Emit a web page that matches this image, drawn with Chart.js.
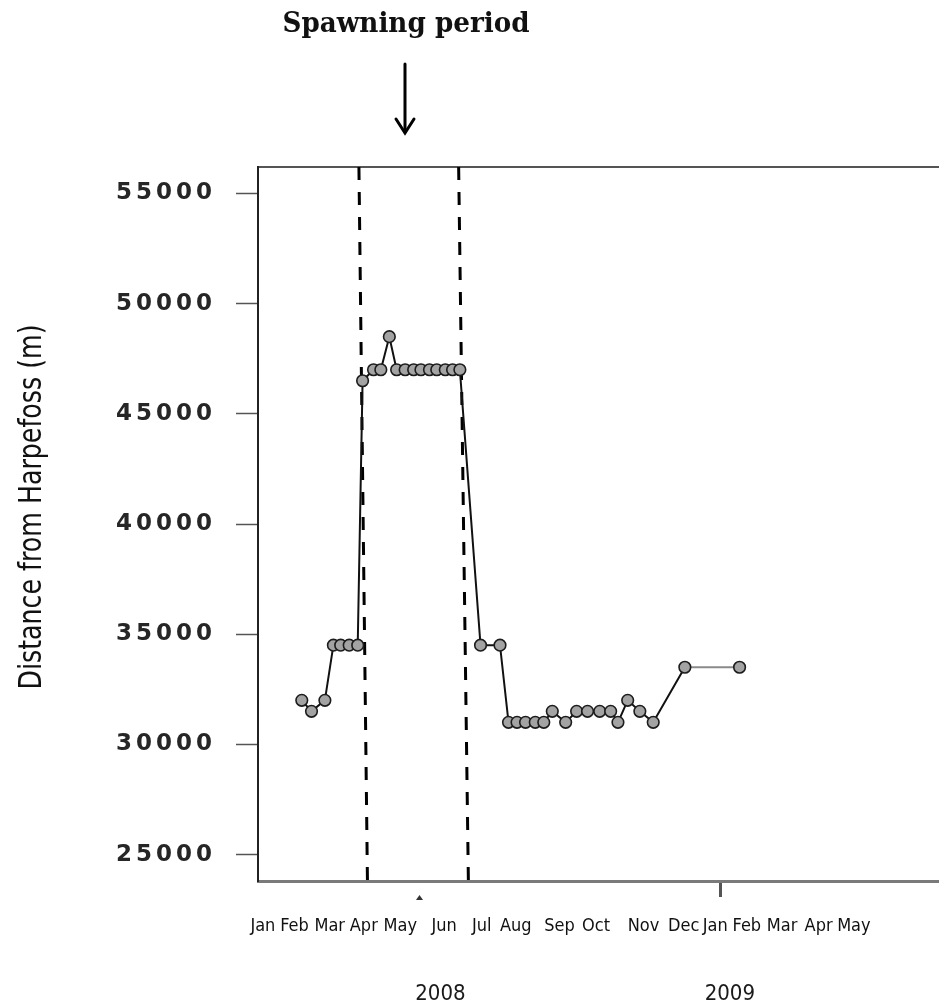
<!DOCTYPE html>
<html><head><meta charset="utf-8">
<script src="https://cdn.jsdelivr.net/npm/chart.js@4.4.0/dist/chart.umd.min.js"></script>
<style>html,body{margin:0;padding:0;background:#fff;overflow:hidden}#wrap{width:939px;height:1006px;position:relative}</style>
</head><body><div id="wrap"><canvas id="c" width="939" height="1006"></canvas></div>
<script>
// ---- data (x = day counted from 1 Jan 2008) ----
const surveyDays = [46,54,65,72,78,85,92,96,105,111,118,124,131,138,144,151,157,164,170,176,193,209,216,223,230,238,245,252,263,272,281,291,300,306,314,324,335,361,406];
const distanceM  = [32000,31500,32000,34500,34500,34500,34500,46500,47000,47000,48500,47000,47000,47000,47000,47000,47000,47000,47000,47000,34500,34500,31000,31000,31000,31000,31000,31500,31000,31500,31500,31500,31500,31000,32000,31500,31000,33500,33500];
const yTickValues = [25000,30000,35000,40000,45000,50000,55000];
const monthLabels = ['Jan','Feb','Mar','Apr','May','Jun','Jul','Aug','Sep','Oct','Nov','Dec','Jan','Feb','Mar','Apr','May'];
const monthLabelDays = [14,40,69,97,127,163,194,222,258,288,327,360,386,412,441,471,500];
const axisMarkDays = [390];
const spawnStartDays = [93,100];   // top, bottom of dashed line
const spawnEndDays = [175,183];
const yearLabels = ['2008','2009'];
const yearDays = [160,398];
const X_MIN = 10, X_MAX = 570, Y_MIN = 23800, Y_MAX = 56200;

function hasFont(f){const c=document.createElement('canvas').getContext('2d');c.font='40px monospace';const a=c.measureText('abcdefghiWMl').width;c.font='40px "'+f+'", monospace';return c.measureText('abcdefghiWMl').width!==a;}
let NARROW = 'Liberation Sans';
for (const f of ['Liberation Sans Narrow','DejaVu Sans Condensed','Roboto Condensed','Roboto']) { if (hasFont(f)) { NARROW = f; break; } }

const decor = {
  id:'decor',
  afterDraw(chart){
    const ctx = chart.ctx, ys = chart.scales.y, xs = chart.scales.x;
    ctx.save();
    ctx.font = 'bold 23px "DejaVu Sans"';
    ctx.fillStyle = '#262626';
    ctx.textAlign = 'right'; ctx.textBaseline = 'middle';
    if ('letterSpacing' in ctx) ctx.letterSpacing = '4px';
    ys.ticks.forEach(t => ctx.fillText(String(t.value), 216, ys.getPixelForValue(t.value)));
    if ('letterSpacing' in ctx) ctx.letterSpacing = '0px';
    ctx.restore();

    // y title
    ctx.save();
    ctx.translate(33, 507); ctx.rotate(-Math.PI/2);
    ctx.font = '32px "' + NARROW + '"';
    ctx.fillStyle = '#111';
    const t1 = 'Distance from Harpefoss (m)';
    const w1 = ctx.measureText(t1).width;
    ctx.scale(365 / w1, 1);
    ctx.textAlign = 'center'; ctx.textBaseline = 'middle';
    ctx.fillText(t1, 0, 0);
    ctx.restore();

    // title
    ctx.save();
    ctx.translate(406, 25);
    ctx.font = 'bold 27px "DejaVu Serif"';
    const t2 = 'Spawning period';
    const w2 = ctx.measureText(t2).width;
    ctx.scale(247 / w2, 1);
    ctx.fillStyle = '#111';
    ctx.textAlign = 'center'; ctx.textBaseline = 'middle';
    ctx.fillText(t2, 0, 0);
    ctx.restore();

    // arrow
    ctx.save();
    ctx.strokeStyle = '#000'; ctx.lineWidth = 3; ctx.lineCap = 'round';
    ctx.beginPath(); ctx.moveTo(405, 64); ctx.lineTo(405, 132); ctx.stroke();
    ctx.beginPath(); ctx.moveTo(396, 119); ctx.lineTo(405, 133); ctx.lineTo(414, 119); ctx.stroke();
    ctx.restore();

    // small mark under axis
    ctx.save();
    ctx.fillStyle = '#333';
    ctx.beginPath(); ctx.moveTo(416, 900); ctx.lineTo(419.5, 895); ctx.lineTo(423, 900); ctx.closePath(); ctx.fill();
    ctx.restore();

    // year labels
    ctx.save();
    ctx.font = '22px "' + NARROW + '"';
    ctx.fillStyle = '#1a1a1a';
    ctx.textAlign = 'center'; ctx.textBaseline = 'middle';
    yearLabels.forEach((l,i) => ctx.fillText(l, xs.getPixelForValue(yearDays[i]), 994));
    ctx.restore();
  }
};

const lastSeg = surveyDays.length - 2;
new Chart(document.getElementById('c'), {
  type: 'line',
  data: {
    datasets: [
      {
        data: surveyDays.map((d,i) => ({x:d, y:distanceM[i]})),
        borderColor: '#111', borderWidth: 2, tension: 0,
        pointRadius: 5.8, pointBackgroundColor: '#a3a3a3', pointBorderColor: '#1c1c1c', pointBorderWidth: 1.6,
        segment: { borderColor: c => c.p0DataIndex === lastSeg ? '#8a8a8a' : '#111' },
        order: 1
      },
      {
        data: [{x:spawnStartDays[0], y:Y_MAX}, {x:spawnStartDays[1], y:Y_MIN}],
        borderColor: '#000', borderWidth: 3, borderDash: [13,12], pointRadius: 0, order: 2
      },
      {
        data: [{x:spawnEndDays[0], y:Y_MAX}, {x:spawnEndDays[1], y:Y_MIN}],
        borderColor: '#000', borderWidth: 3, borderDash: [13,12], pointRadius: 0, order: 2
      }
    ]
  },
  options: {
    responsive: false, animation: false, devicePixelRatio: 1,
    layout: { autoPadding: false, padding: { top: 167, right: 0, left: 0, bottom: 0 } },
    plugins: { legend: {display:false}, tooltip: {enabled:false} },
    scales: {
      x: {
        type: 'linear', position: 'bottom', min: X_MIN, max: X_MAX,
        afterBuildTicks: s => {
          const t = monthLabelDays.map((v,i) => ({value:v, lbl:monthLabels[i]}));
          axisMarkDays.forEach(v => t.push({value:v, mark:true, lbl:''}));
          t.sort((a,b) => a.value - b.value);
          s.ticks = t;
        },
        afterFit: s => { s.height = 125; },
        ticks: {
          autoSkip: false, maxRotation: 0, minRotation: 0, padding: 19,
          color: '#111', font: { family: NARROW, size: 18 },
          callback: (v, i, ticks) => ticks[i].lbl
        },
        grid: {
          drawOnChartArea: false, tickLength: 16,
          tickColor: c => (c.tick && c.tick.mark) ? '#555' : 'rgba(0,0,0,0)',
          tickWidth: 3
        },
        border: { display: true, color: '#7a7a7a', width: 3 }
      },
      xTop: {
        type: 'linear', position: 'top', min: X_MIN, max: X_MAX,
        afterFit: s => { s.height = 0; },
        ticks: { display: false },
        grid: { display: false },
        border: { display: true, color: '#555', width: 2 }
      },
      y: {
        type: 'linear', position: 'left', min: Y_MIN, max: Y_MAX,
        afterBuildTicks: s => { s.ticks = yTickValues.map(v => ({value:v})); },
        afterFit: s => { s.width = 258; },
        ticks: { display: false },
        grid: { drawOnChartArea: false, tickLength: 22, tickColor: '#555', tickWidth: 1.5 },
        border: { display: true, color: '#222', width: 2 }
      }
    }
  },
  plugins: [decor]
});
</script></body></html>
